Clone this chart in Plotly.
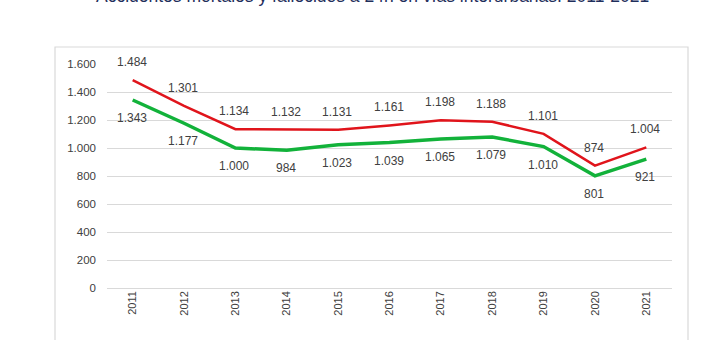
import plotly.graph_objects as go

years = [str(y) for y in range(2011, 2022)]
fallecidos = [1484, 1301, 1134, 1132, 1131, 1161, 1198, 1188, 1101, 874, 1004]
accidentes = [1343, 1177, 1000, 984, 1023, 1039, 1065, 1079, 1010, 801, 921]
y_ticks = [0, 200, 400, 600, 800, 1000, 1200, 1400, 1600]

def fmt(v):
    return f"{v:,}".replace(",", ".")

fig = go.Figure()
fig.add_trace(go.Scatter(
    x=years, y=fallecidos, mode="lines", name="Fallecidos 24h",
    line=dict(color="#E0141B", width=2.5),
))
fig.add_trace(go.Scatter(
    x=years, y=accidentes, mode="lines", name="Accidentes mortales",
    line=dict(color="#12B23A", width=3.5),
))

label_font = dict(size=12, color="#404040", family="Liberation Sans")
# category axis: annotation x given as category index
for i, v in enumerate(fallecidos):
    fig.add_annotation(x=i, y=v, xref="x", yref="y", text=fmt(v), showarrow=False,
                       yshift=18, xshift=-1, font=label_font)
for i, v in enumerate(accidentes):
    fig.add_annotation(x=i, y=v, xref="x", yref="y", text=fmt(v), showarrow=False,
                       yshift=-18, xshift=-1, font=label_font)

L, R, T, B = 107, 48, 64, 52
W, H = 720, 340
pw, ph = W - L - R, H - T - B

def px2paper_x(px):
    return (px - L) / pw

def px2paper_y(py):
    return (H - B - py) / ph

fig.add_shape(type="rect", xref="paper", yref="paper",
              x0=px2paper_x(55), x1=px2paper_x(688),
              y0=px2paper_y(360), y1=px2paper_y(47),
              line=dict(color="#D9D9D9", width=1.2), fillcolor="rgba(0,0,0,0)", layer="below")

fig.add_annotation(
    text="Accidentes mortales y fallecidos a 24h en vías interurbanas. 2011-2021",
    xref="paper", yref="paper", x=px2paper_x(372), y=px2paper_y(8),
    xanchor="center", yanchor="bottom", showarrow=False,
    font=dict(size=17.5, color="#1F2F5C", family="Liberation Sans"),
)

fig.update_layout(
    width=W, height=H,
    margin=dict(l=L, r=R, t=T, b=B),
    paper_bgcolor="white", plot_bgcolor="white",
    showlegend=False,
    font=dict(family="Liberation Sans", color="#404040"),
)
fig.update_xaxes(
    type="category", range=[-0.5, 10.5], tickangle=-90,
    tickfont=dict(size=11, color="#404040"),
    showgrid=False, showline=False, ticks="",
)
fig.update_yaxes(
    range=[0, 1600], tickvals=y_ticks, ticktext=[fmt(v) for v in y_ticks],
    tickfont=dict(size=11.5, color="#404040"),
    showgrid=True, gridcolor="#D9D9D9", gridwidth=1,
    zeroline=True, zerolinecolor="#D9D9D9", zerolinewidth=1,
    showline=False, ticks="", ticklabelstandoff=10,
)

fig.write_html("out.html")
